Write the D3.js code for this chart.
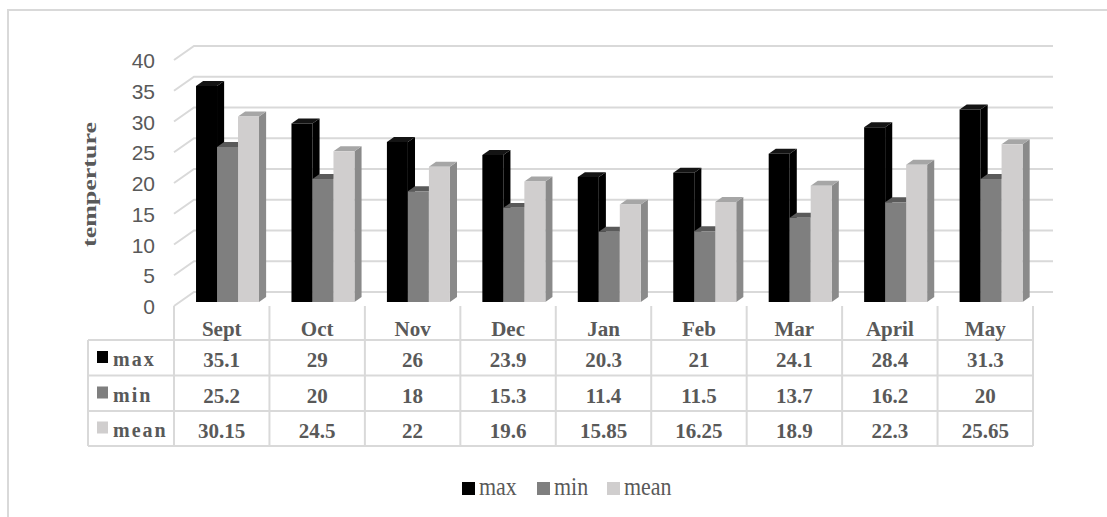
<!DOCTYPE html>
<html>
<head>
<meta charset="utf-8">
<script src="https://cdn.jsdelivr.net/npm/d3@7"></script>
<style>
  body { margin: 0; background: #fff; }
  svg { display: block; }
  .serif { font-family: "Liberation Serif", "Times New Roman", Times, serif; }
  .sans { font-family: "Liberation Sans", Arial, sans-serif; }
</style>
</head>
<body>
<script>
// chart data
const categories = ["Sept", "Oct", "Nov", "Dec", "Jan", "Feb", "Mar", "April", "May"];
const maxVals = [35.1, 29, 26, 23.9, 20.3, 21, 24.1, 28.4, 31.3];
const minVals = [25.2, 20, 18, 15.3, 11.4, 11.5, 13.7, 16.2, 20];
const meanVals = [30.15, 24.5, 22, 19.6, 15.85, 16.25, 18.9, 22.3, 25.65];
const seriesNames = ["max", "min", "mean"];
const yTicks = [0, 5, 10, 15, 20, 25, 30, 35, 40];

const width = 1107, height = 517;
const seriesVals = [maxVals, minVals, meanVals];
const colors = {
  max:  {front: "#000000", top: "#141414", side: "#000000"},
  min:  {front: "#7f7f7f", top: "#5a5a5a", side: "#5a5a5a"},
  mean: {front: "#d0cece", top: "#a6a6a6", side: "#8a8a8a"}
};
const grid = "#d9d9d9", textCol = "#595959";

// 3d projection: depth z in [0,1] shifts right and up
const DX = 20, DY = 14, Y0 = 306;
const y = d3.scaleLinear().domain([0, 40]).range([0, 246]);
const x = d3.scaleBand().domain(categories).range([174, 1033])
  .paddingInner(0.34).paddingOuter(0.17);
const xs = d3.scaleBand().domain(seriesNames).range([0, x.bandwidth()]);
const proj = (px, v, z) => [px + z * DX, Y0 - z * DY - y(v)];
const zF = 0.29, zB = 0.645;

const svg = d3.select("body").append("svg")
  .attr("width", width).attr("height", height);

// outer frame (only top/left visible)
svg.append("path")
  .attr("d", `M8,${height} L8,10 L${width},10`)
  .attr("fill", "none").attr("stroke", grid).attr("stroke-width", 2);

// gridlines: side wall diagonal + back wall
const gl = svg.append("g").attr("stroke", grid).attr("stroke-width", 2).attr("fill", "none");
const x0 = x.range()[0], x1 = x.range()[1];
yTicks.forEach(t => {
  const a = proj(x0, t, 0), b = proj(x0, t, 1), c = proj(x1, t, 1);
  gl.append("path").attr("d", `M${a[0]},${a[1]} L${b[0]},${b[1]} L${c[0]},${c[1]}`);
});

// y tick labels
svg.append("g").selectAll("text").data(yTicks).join("text")
  .attr("class", "sans")
  .attr("x", 155)
  .attr("y", d => proj(x0, d, 0)[1] + 2.5)
  .attr("text-anchor", "end")
  .attr("dominant-baseline", "middle")
  .attr("font-size", 21)
  .attr("fill", textCol)
  .text(d => d);

// y axis title
svg.append("text")
  .attr("class", "serif")
  .attr("transform", "translate(96,184.5) rotate(-90)")
  .attr("text-anchor", "middle")
  .attr("font-weight", "bold")
  .attr("font-size", 19)
  .attr("textLength", 125)
  .attr("lengthAdjust", "spacingAndGlyphs")
  .attr("fill", textCol)
  .text("temperture");

// bars
const bars = [];
categories.forEach((c, i) => {
  seriesNames.forEach((s, j) => {
    bars.push({cat: c, series: s, value: seriesVals[j][i]});
  });
});
const pts = arr => arr.map(p => p.join(",")).join(" ");
const barG = svg.append("g").selectAll("g").data(bars).join("g");
barG.each(function(d) {
  const g = d3.select(this);
  const l = x(d.cat) + xs(d.series), r = l + xs.bandwidth();
  const col = colors[d.series];
  // side face
  g.append("polygon").attr("fill", col.side)
    .attr("points", pts([proj(r, 0, zF), proj(r, d.value, zF), proj(r, d.value, zB), proj(r, 0, zB)]));
  // top face
  g.append("polygon").attr("fill", col.top)
    .attr("points", pts([proj(l, d.value, zF), proj(r, d.value, zF), proj(r, d.value, zB), proj(l, d.value, zB)]));
  // front face
  g.append("polygon").attr("fill", col.front)
    .attr("points", pts([proj(l, 0, zF), proj(r, 0, zF), proj(r, d.value, zF), proj(l, d.value, zF)]));
});

// data table
const step = x.step();
const rowLines = [340, 375.5, 411, 446];
const tableLeft = 88;
const tg = svg.append("g").attr("stroke", grid).attr("stroke-width", 2).attr("fill", "none");
rowLines.forEach(yy => tg.append("line").attr("x1", tableLeft).attr("x2", x1).attr("y1", yy).attr("y2", yy));
d3.range(categories.length + 1).forEach(i => {
  const xx = x0 + i * step;
  tg.append("line").attr("x1", xx).attr("x2", xx).attr("y1", Y0).attr("y2", rowLines[3]);
});
tg.append("line").attr("x1", tableLeft).attr("x2", tableLeft).attr("y1", rowLines[0]).attr("y2", rowLines[3]);

// header row
svg.append("g").selectAll("text").data(categories).join("text")
  .attr("class", "serif")
  .attr("x", (d, i) => x0 + (i + 0.5) * step)
  .attr("y", 336)
  .attr("text-anchor", "middle")
  .attr("font-weight", "bold").attr("font-size", 21)
  .attr("fill", textCol)
  .text(d => d);

// value rows
const rowBase = [367, 402.5, 437.5];
seriesNames.forEach((s, j) => {
  svg.append("g").selectAll("text").data(seriesVals[j]).join("text")
    .attr("class", "serif")
    .attr("x", (d, i) => x0 + (i + 0.5) * step)
    .attr("y", rowBase[j])
    .attr("text-anchor", "middle")
    .attr("font-weight", "bold").attr("font-size", 21)
    .attr("fill", textCol)
    .text(d => d);
  svg.append("rect")
    .attr("x", 97).attr("y", rowBase[j] - 16).attr("width", 11).attr("height", 12)
    .attr("fill", colors[s].front);
  svg.append("text")
    .attr("class", "serif")
    .attr("x", 113).attr("y", rowBase[j] - 1)
    .attr("font-weight", "bold").attr("font-size", 20)
    .attr("letter-spacing", 2)
    .attr("fill", textCol)
    .text(s);
});

// legend
const legendX = [462, 537, 607];
const lg = svg.append("g").selectAll("g").data(seriesNames).join("g")
  .attr("transform", (d, i) => `translate(${legendX[i]},482)`);
lg.append("rect").attr("width", 13).attr("height", 13).attr("fill", d => colors[d].front);
lg.append("text")
  .attr("class", "serif")
  .attr("transform", "translate(17,13) scale(1,1.12)")
  .attr("font-size", 22)
  .attr("fill", textCol)
  .text(d => d);
</script>
</body>
</html>
